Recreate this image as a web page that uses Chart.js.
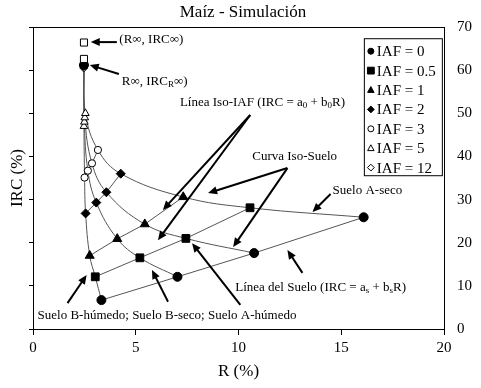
<!DOCTYPE html>
<html>
<head>
<meta charset="utf-8">
<script src="https://cdn.jsdelivr.net/npm/chart.js@4/dist/chart.umd.min.js"></script>
<style>
  html, body { margin: 0; padding: 0; background: #ffffff; }
  #wrap { width: 481px; height: 388px; }
</style>
</head>
<body>
<div id="wrap"><canvas id="maizChart" width="481" height="388"></canvas></div>
<script>
// soils, in the order they sit along every iso-IAF line
var soilNames = ["Suelo B-húmedo", "Suelo B-seco", "Suelo A-húmedo", "Suelo A-seco"];
var iafLabels = ["IAF = 0", "IAF = 0.5", "IAF = 1", "IAF = 2", "IAF = 3", "IAF = 5", "IAF = 12"];

// R (%) and IRC (%), one pair of arrays per IAF
var rIAF0 = [3.33, 7.03, 10.76, 16.09];
var ircIAF0 = [6.7, 12.1, 17.6, 25.9];
var rIAF05 = [3.03, 5.2, 7.44, 10.56];
var ircIAF05 = [12.1, 16.5, 21.0, 28.1];
var rIAF1 = [2.76, 4.1, 5.44, 7.31];
var ircIAF1 = [17.0, 20.9, 24.3, 30.6];
var rIAF2 = [2.56, 3.08, 3.57, 4.27];
var ircIAF2 = [26.8, 29.3, 31.7, 36.0];
var rIAF3 = [2.51, 2.67, 2.87, 3.16];
var ircIAF3 = [35.1, 36.7, 38.4, 41.5];
var rIAF5 = [2.48, 2.5, 2.52, 2.55];
var ircIAF5 = [47.0, 48.0, 49.0, 50.0];
var rIAF12 = [2.47, 2.47, 2.48, 2.48];
var ircIAF12 = [60.5, 60.8, 61.0, 61.3];

// asymptotes
var rInf = [2.48, 2.48];
var ircInf = [62.6, 66.4];
var rInfR = [2.48];
var ircInfR = [61.2];

var yTicks = [0, 10, 20, 30, 40, 50, 60, 70];

var allR = [rIAF0, rIAF05, rIAF1, rIAF2, rIAF3, rIAF5, rIAF12];
var allIRC = [ircIAF0, ircIAF05, ircIAF1, ircIAF2, ircIAF3, ircIAF5, ircIAF12];

var markerStyle = [
  {style: "circle", r: 4.5, fill: "#000"},
  {style: "rect", r: 5.5, fill: "#000"},
  {style: "triangle", r: 5.2, fill: "#000"},
  {style: "rectRot", r: 4.5, fill: "#000"},
  {style: "circle", r: 3.6, fill: "#fff"},
  {style: "triangle", r: 4.4, fill: "#fff"},
  {style: "rectRot", r: 4, fill: "#fff"}
];

function toPoints(xs, ys) {
  var pts = [];
  for (var i = 0; i < xs.length; i++) {
    pts.push({x: xs[i], y: ys[i]});
  }
  return pts;
}

var datasets = [];

// iso-IAF lines (straight) with markers
for (var k = 0; k < iafLabels.length; k++) {
  datasets.push({
    label: iafLabels[k],
    data: toPoints(allR[k], allIRC[k]),
    showLine: true,
    tension: 0,
    borderColor: "#555555",
    borderWidth: 1,
    pointStyle: markerStyle[k].style,
    pointRadius: markerStyle[k].r,
    pointBackgroundColor: markerStyle[k].fill,
    pointBorderColor: "#000",
    pointBorderWidth: 1,
    order: 1
  });
}

// iso-soil curves through every IAF up to the asymptote
for (var s = 0; s < soilNames.length; s++) {
  var cx = [], cy = [];
  for (var k2 = 0; k2 < allR.length; k2++) {
    cx.push(allR[k2][s]);
    cy.push(allIRC[k2][s]);
  }
  cx.push(rInfR[0]);
  cy.push(ircInfR[0]);
  datasets.push({
    label: soilNames[s],
    data: toPoints(cx, cy),
    showLine: true,
    tension: 0.4,
    borderColor: "#555555",
    borderWidth: 1,
    pointRadius: 0,
    order: 2,
    hideInLegend: true
  });
}

datasets.push({
  label: "R∞, IRC∞",
  data: toPoints(rInf, ircInf),
  showLine: false,
  pointStyle: "rect",
  pointRadius: 5,
  pointBackgroundColor: "#fff",
  pointBorderColor: "#000",
  pointBorderWidth: 1,
  order: 0,
  hideInLegend: true
});
datasets.push({
  label: "R∞, IRC_R∞",
  data: toPoints(rInfR, ircInfR),
  showLine: false,
  pointStyle: "circle",
  pointRadius: 4.5,
  pointBackgroundColor: "#000",
  pointBorderColor: "#000",
  order: 0,
  hideInLegend: true
});

// text notes and arrows, anchored in data units
var notes = [
  {x: 4.2, y: 67.0, parts: [["(R∞, IRC∞)"]]},
  {x: 4.32, y: 57.3, parts: [["R∞, IRC"], ["R", 1], ["∞)"]]},
  {x: 7.15, y: 52.4, parts: [["Línea Iso-IAF (IRC = a"], ["0", 1], [" + b"], ["0", 1], ["R)"]]},
  {x: 10.67, y: 39.9, parts: [["Curva Iso-Suelo"]]},
  {x: 14.58, y: 32.2, parts: [["Suelo A-seco"]]},
  {x: 9.84, y: 9.7, parts: [["Línea del Suelo (IRC = a"], ["s", 1], [" + b"], ["s", 1], ["R)"]]},
  {x: 0.22, y: 3.2, parts: [["Suelo B-húmedo; Suelo B-seco; Suelo A-húmedo"]]}
];
var arrows = [
  [4.08, 66.5, 2.81, 66.5],
  [4.18, 59.1, 2.76, 61.2],
  [10.57, 49.6, 6.32, 27.6],
  [10.57, 49.6, 6.08, 20.6],
  [12.38, 37.3, 8.52, 31.5],
  [12.38, 37.3, 9.74, 19.0],
  [14.48, 31.3, 13.6, 27.1],
  [13.11, 13.0, 12.38, 18.3],
  [1.68, 6.0, 2.61, 12.5],
  [6.57, 6.3, 5.79, 13.7],
  [10.09, 5.6, 7.74, 19.9]
];

var serif = "'Liberation Serif', 'DejaVu Serif', serif";

function drawMarker(ctx, style, x, y, r, fill) {
  ctx.beginPath();
  if (style === "circle") {
    ctx.arc(x, y, r, 0, Math.PI * 2);
  } else if (style === "rect") {
    ctx.rect(x - r, y - r, 2 * r, 2 * r);
  } else if (style === "triangle") {
    ctx.moveTo(x, y - r);
    ctx.lineTo(x + r * 0.95, y + r * 0.7);
    ctx.lineTo(x - r * 0.95, y + r * 0.7);
    ctx.closePath();
  } else if (style === "rectRot") {
    ctx.moveTo(x, y - r);
    ctx.lineTo(x + r, y);
    ctx.lineTo(x, y + r);
    ctx.lineTo(x - r, y);
    ctx.closePath();
  }
  ctx.fillStyle = fill;
  ctx.fill();
  ctx.strokeStyle = "#000";
  ctx.lineWidth = 1;
  ctx.stroke();
}

var extrasPlugin = {
  id: "extras",
  afterDatasetsDraw: function(chart) {
    var ctx = chart.ctx;
    var xs = chart.scales.x, ys = chart.scales.y;
    var area = chart.chartArea;
    ctx.save();

    // arrows
    ctx.strokeStyle = "#000";
    ctx.fillStyle = "#000";
    for (var i = 0; i < arrows.length; i++) {
      var a = arrows[i];
      var x1 = xs.getPixelForValue(a[0]), y1 = ys.getPixelForValue(a[1]);
      var x2 = xs.getPixelForValue(a[2]), y2 = ys.getPixelForValue(a[3]);
      var ang = Math.atan2(y2 - y1, x2 - x1);
      var hl = 9, hw = 4;
      ctx.lineWidth = 2;
      ctx.beginPath();
      ctx.moveTo(x1, y1);
      ctx.lineTo(x2 - Math.cos(ang) * hl * 0.8, y2 - Math.sin(ang) * hl * 0.8);
      ctx.stroke();
      ctx.beginPath();
      ctx.moveTo(x2, y2);
      ctx.lineTo(x2 - Math.cos(ang) * hl - Math.sin(ang) * hw, y2 - Math.sin(ang) * hl + Math.cos(ang) * hw);
      ctx.lineTo(x2 - Math.cos(ang) * hl + Math.sin(ang) * hw, y2 - Math.sin(ang) * hl - Math.cos(ang) * hw);
      ctx.closePath();
      ctx.fill();
    }

    // notes
    ctx.textBaseline = "middle";
    ctx.textAlign = "left";
    for (var n = 0; n < notes.length; n++) {
      var tx = xs.getPixelForValue(notes[n].x);
      var ty = ys.getPixelForValue(notes[n].y);
      var parts = notes[n].parts;
      for (var p = 0; p < parts.length; p++) {
        var isSub = parts[p][1] === 1;
        ctx.font = (isSub ? "9px " : "13px ") + serif;
        ctx.fillText(parts[p][0], tx, isSub ? ty + 3 : ty);
        tx += ctx.measureText(parts[p][0]).width;
      }
    }

    // legend box
    var lx = xs.getPixelForValue(16.1), ly = ys.getPixelForValue(67.4);
    var lw = 78, lh = 137;
    ctx.fillStyle = "#fff";
    ctx.fillRect(lx, ly, lw, lh);
    ctx.strokeStyle = "#000";
    ctx.lineWidth = 1;
    ctx.strokeRect(lx + 0.5, ly + 0.5, lw, lh);
    ctx.font = "15px " + serif;
    for (var k = 0; k < iafLabels.length; k++) {
      var ey = ly + 13 + k * 19.4;
      var ms = markerStyle[k];
      drawMarker(ctx, ms.style, lx + 7, ey, ms.style === "circle" ? 3 : 3.4, ms.fill);
      ctx.fillStyle = "#000";
      ctx.fillText(iafLabels[k], lx + 13, ey + 1);
    }

    // frame
    ctx.strokeStyle = "#000";
    ctx.lineWidth = 1;
    ctx.strokeRect(Math.round(area.left) + 0.5, Math.round(area.top) + 0.5,
      Math.round(area.right - area.left), Math.round(area.bottom - area.top));

    // title
    ctx.font = "17px " + serif;
    ctx.textAlign = "center";
    ctx.fillStyle = "#000";
    ctx.fillText("Maíz - Simulación", 243, 13);
    ctx.restore();
  }
};

var canvas = document.getElementById("maizChart");
var ctx = canvas.getContext("2d");

var chart = new Chart(ctx, {
  type: "scatter",
  data: {datasets: datasets},
  options: {
    responsive: false,
    animation: false,
    layout: {padding: {top: 27, right: 0, left: 0, bottom: 0}},
    plugins: {
      legend: {display: false},
      tooltip: {enabled: false},
      title: {display: false}
    },
    scales: {
      x: {
        type: "linear",
        min: 0,
        max: 20,
        afterFit: function(scale) { scale.height = 59; },
        ticks: {stepSize: 5, color: "#000", padding: 4, font: {family: serif, size: 15}},
        grid: {display: true, drawOnChartArea: false, drawTicks: true, tickLength: 6, color: "#000"},
        border: {display: true, color: "#000"},
        title: {display: true, text: "R (%)", color: "#000", font: {family: serif, size: 17}, padding: {top: 0, bottom: 6}}
      },
      y: {
        type: "linear",
        position: "left",
        min: 0,
        max: 70,
        afterFit: function(scale) { scale.width = 33; },
        ticks: {stepSize: 10, display: false},
        grid: {display: true, drawOnChartArea: false, drawTicks: true, tickLength: 4, color: "#000"},
        border: {display: true, color: "#000"},
        title: {display: true, text: "IRC (%)", color: "#000", font: {family: serif, size: 17}, padding: {top: 7, bottom: 0}}
      },
      y2: {
        type: "linear",
        position: "right",
        min: 0,
        max: 70,
        afterFit: function(scale) { scale.width = 37; },
        afterBuildTicks: function(scale) {
          scale.ticks = yTicks.map(function(v) { return {value: v}; });
        },
        ticks: {color: "#000", padding: 13, font: {family: serif, size: 15}},
        grid: {display: false, drawTicks: false},
        border: {display: true, color: "#000"}
      }
    }
  },
  plugins: [extrasPlugin]
});
</script>
</body>
</html>
